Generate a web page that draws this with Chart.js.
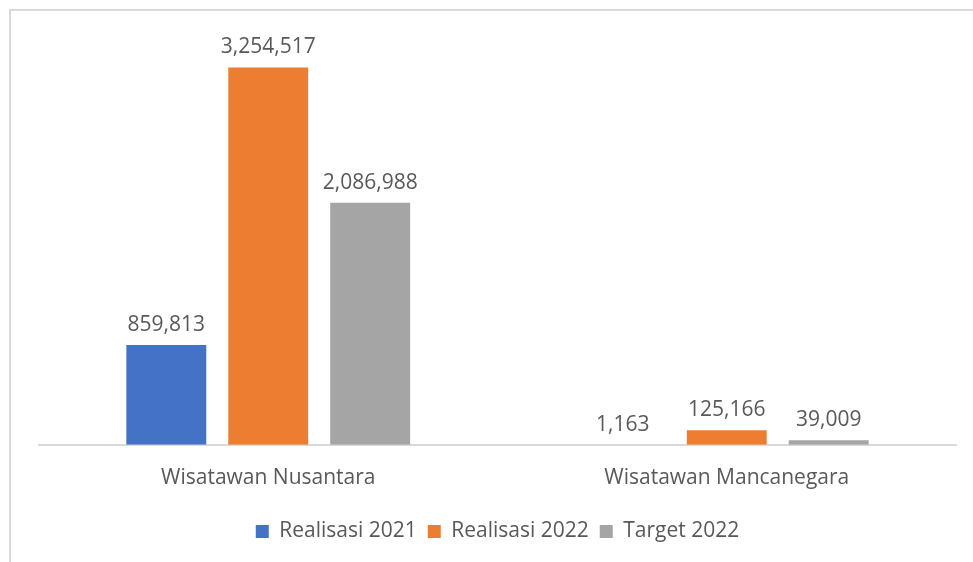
<!DOCTYPE html>
<html lang="id">
  <head>
    <meta charset="UTF-8" />
    <meta name="viewport" content="width=device-width, initial-scale=1.0" />
    <title>Wisatawan</title>
    <style>
      html, body { margin: 0; padding: 0; background: #fff; }
      #wrap { width: 973px; height: 562px; }
    </style>
  </head>
  <body>
    <div id="wrap">
      <canvas id="myChart" width="973" height="562"></canvas>
    </div>

    <script src="https://cdn.jsdelivr.net/npm/chart.js"></script>
    <script>
      const categories = ["Wisatawan Nusantara", "Wisatawan Mancanegara"];
      const realisasi2021 = [859813, 1163];
      const realisasi2022 = [3254517, 125166];
      const target2022 = [2086988, 39009];

      const textColor = "#595959";
      const fontFamily = "'Open Sans', 'Noto Sans', sans-serif";

      // frame line on the left and top edge
      const frame = {
        id: "frame",
        beforeDraw(chart) {
          const c = chart.ctx;
          c.save();
          c.strokeStyle = "#d9d9d9";
          c.lineWidth = 2;
          c.beginPath();
          c.moveTo(10, 562);
          c.lineTo(10, 10);
          c.lineTo(973, 10);
          c.stroke();
          c.restore();
        },
      };

      // value labels above each bar
      const valueLabels = {
        id: "valueLabels",
        afterDatasetsDraw(chart) {
          const c = chart.ctx;
          c.save();
          c.font = "21px " + fontFamily;
          c.fillStyle = textColor;
          c.textAlign = "center";
          c.textBaseline = "middle";
          chart.data.datasets.forEach((ds, i) => {
            chart.getDatasetMeta(i).data.forEach((bar, j) => {
              c.fillText(ds.data[j].toLocaleString("en-US"), bar.x - (i === 0 && j === 1 ? 2 : 0), bar.y - 20);
            });
          });
          c.restore();
        },
      };

      const ctx = document.getElementById("myChart");

      const myChart = new Chart(ctx, {
        type: "bar",
        data: {
          labels: categories,
          datasets: [
            { label: "Realisasi 2021", data: realisasi2021, backgroundColor: "#4472c4" },
            { label: "Realisasi 2022", data: realisasi2022, backgroundColor: "#ed7d31" },
            { label: "Target 2022", data: target2022, backgroundColor: "#a5a5a5" },
          ],
        },
        options: {
          responsive: false,
          animation: false,
          layout: { padding: { left: 39, right: 17, top: 39, bottom: 10 } },
          datasets: {
            bar: { categoryPercentage: 0.667, barPercentage: 0.784 },
          },
          plugins: {
            tooltip: { enabled: false },
            legend: {
              position: "bottom",
              labels: {
                boxWidth: 13,
                boxHeight: 13,
                padding: 11,
                color: textColor,
                font: { family: fontFamily, size: 21 },
              },
            },
          },
          scales: {
            x: {
              grid: { display: false },
              border: { color: "#d9d9d9", width: 2 },
              ticks: {
                color: textColor,
                padding: 13,
                font: { family: fontFamily, size: 21 },
              },
              afterFit(scale) {
                scale.height += 6;
              },
            },
            y: {
              display: false,
              min: 0,
              max: 3500000,
            },
          },
        },
        plugins: [frame, valueLabels],
      });
    </script>
  </body>
</html>
